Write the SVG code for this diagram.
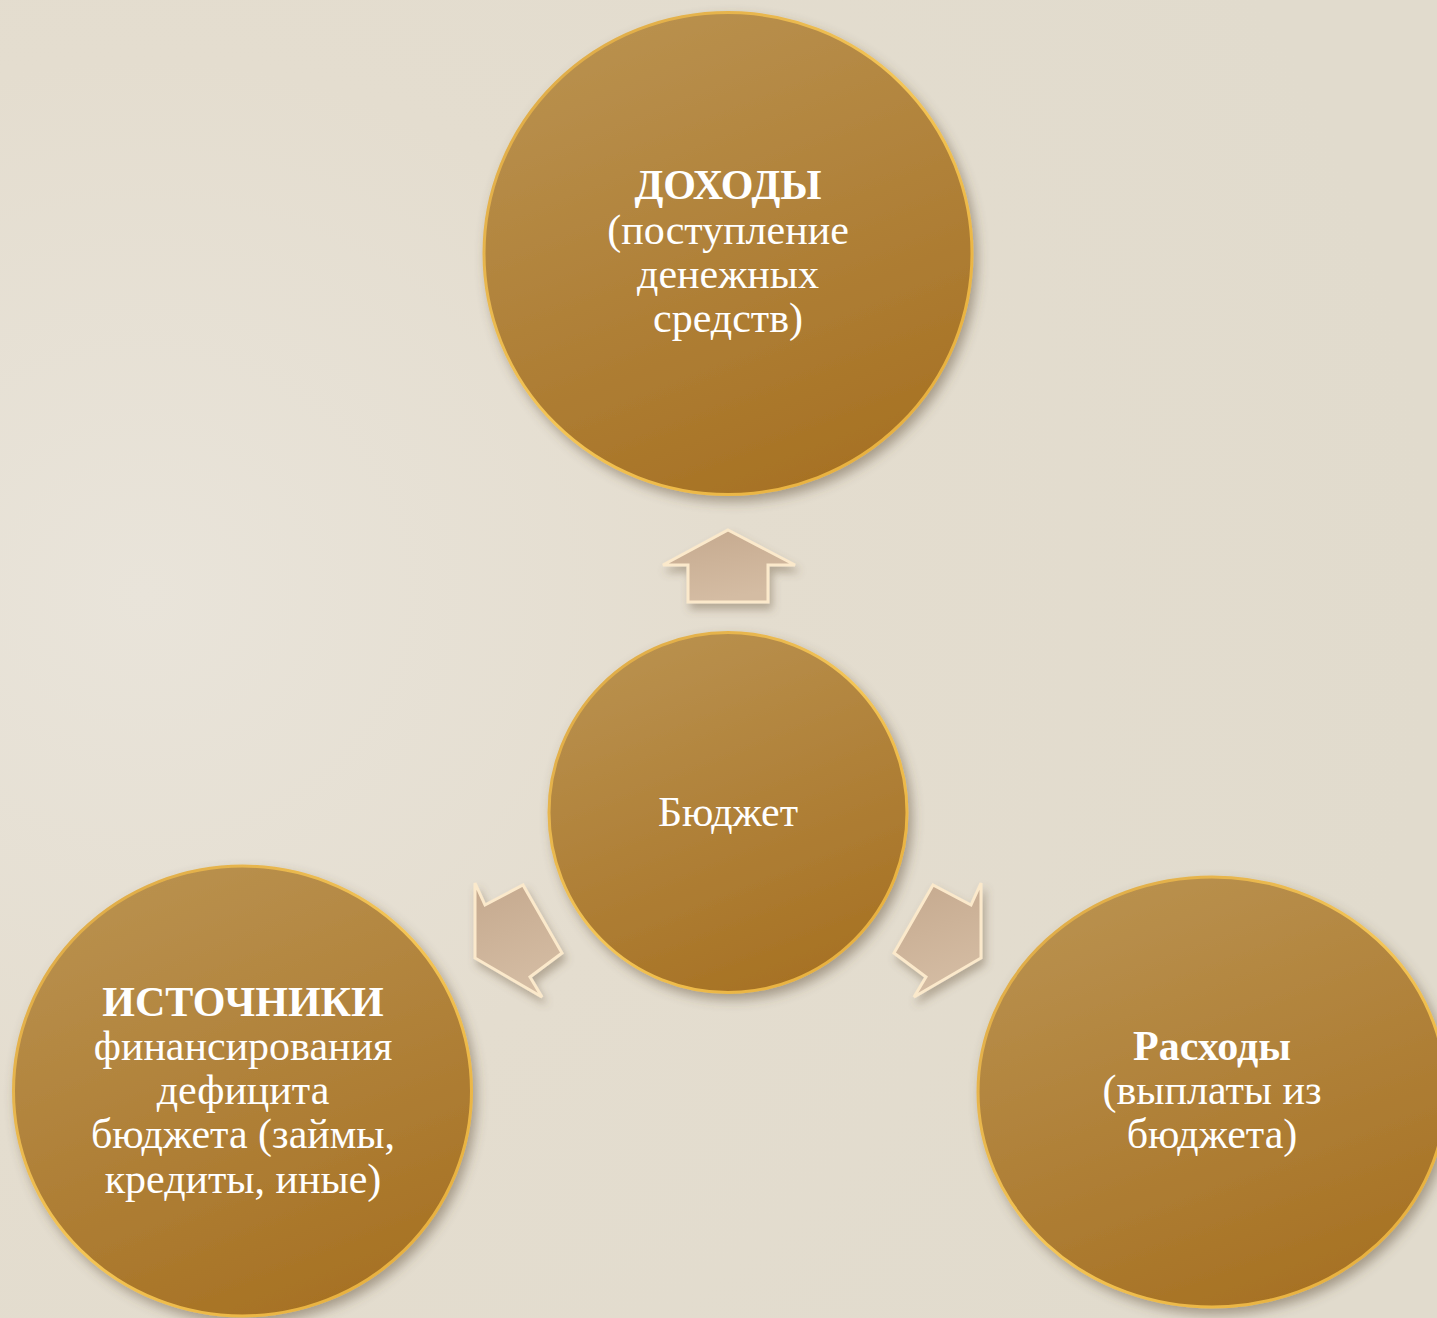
<svg xmlns="http://www.w3.org/2000/svg" width="1437" height="1318" viewBox="0 0 1437 1318">
<defs>
<radialGradient id="bg" cx="0.1" cy="0.45" r="0.9">
<stop offset="0" stop-color="#e9e4da"/>
<stop offset="0.45" stop-color="#e4ddcf"/>
<stop offset="1" stop-color="#e1dbcd"/>
</radialGradient>
<linearGradient id="gold" x1="0.2" y1="0" x2="0.6" y2="1">
<stop offset="0" stop-color="#ba9250"/>
<stop offset="1" stop-color="#a77224"/>
</linearGradient>
<linearGradient id="rim" x1="0" y1="0" x2="1" y2="1">
<stop offset="0" stop-color="#d9a444"/>
<stop offset="0.5" stop-color="#f4c555"/>
<stop offset="1" stop-color="#e3a937"/>
</linearGradient>
<linearGradient id="beige" x1="0" y1="0" x2="0.3" y2="1">
<stop offset="0" stop-color="#c5a98e"/>
<stop offset="1" stop-color="#d4bca3"/>
</linearGradient>
<filter id="sh" x="-10%" y="-10%" width="125%" height="125%">
<feDropShadow dx="4" dy="6" stdDeviation="6" flood-color="#5a4a30" flood-opacity="0.45"/>
</filter>
<filter id="ash" x="-20%" y="-20%" width="150%" height="150%">
<feDropShadow dx="3" dy="6" stdDeviation="4" flood-color="#6a5a40" flood-opacity="0.4"/>
</filter>
</defs>
<style>
.c{fill:url(#gold);stroke:url(#rim);stroke-width:3;filter:url(#sh)}
.a{fill:url(#beige);stroke:#fbe9cb;stroke-width:3;stroke-linejoin:miter;filter:url(#ash)}
text{font-family:"Liberation Serif","Times New Roman",serif;fill:#ffffff;text-anchor:middle;font-size:42px}
.b{font-weight:bold}
</style>
<rect width="1437" height="1318" fill="url(#bg)"/>
<g id="connectors">
<polygon class="a" points="728,530 795,565 768,565 768,602 688,602 688,565 663,565"/>
<polygon class="a" points="475,958 475,883 485,905 523,885 562,953 530,977 542,997"/>
<polygon class="a" points="981,958 981,883 971,905 933,885 894,953 926,977 914,997"/>
</g>
<g id="node-dohody">
<ellipse class="c" cx="728" cy="253.5" rx="244" ry="241"/>
<text x="728" y="199" class="b">ДОХОДЫ</text>
<text x="728" y="244">(поступление</text>
<text x="728" y="288">денежных</text>
<text x="728" y="332">средств)</text>
</g>
<g id="node-budget">
<ellipse class="c" cx="728" cy="812.5" rx="179" ry="180"/>
<text x="728" y="826">Бюджет</text>
</g>
<g id="node-istochniki">
<ellipse class="c" cx="242.5" cy="1091" rx="229" ry="225"/>
<text x="243" y="1016" class="b">ИСТОЧНИКИ</text>
<text x="243" y="1060">финансирования</text>
<text x="243" y="1104">дефицита</text>
<text x="243" y="1148">бюджета (займы,</text>
<text x="243" y="1193">кредиты, иные)</text>
</g>
<g id="node-rashody">
<ellipse class="c" cx="1212" cy="1092" rx="234" ry="215"/>
<text x="1212" y="1060" class="b">Расходы</text>
<text x="1212" y="1104">(выплаты из</text>
<text x="1212" y="1148">бюджета)</text>
</g>
</svg>
